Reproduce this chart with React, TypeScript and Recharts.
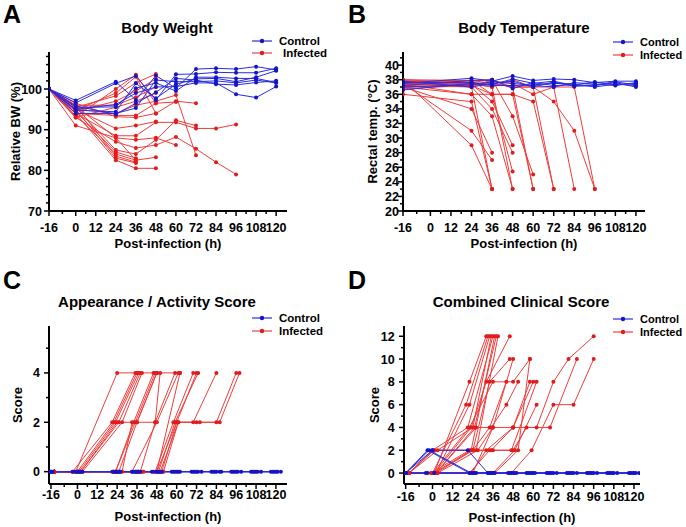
import React from "react";
import { LineChart, Line, XAxis, YAxis, Label } from "recharts";

const FONT = "'Liberation Sans', Arial, Helvetica, sans-serif";
const RED = "#ef3d3d";
const RED_DOT = "#e01c1c";
const BLUE = "#2b2be0";
const BLUE_DOT = "#1414c8";

// x axis (hours post infection)
const hourTicks = [-16, 0, 12, 24, 36, 48, 60, 72, 84, 96, 108, 120];
const hourMinorTicks = [-8, 6, 18, 30, 42, 54, 66, 78, 90, 102, 114];

// A - body weight (%), one row per animal, values at bwTimes
const bwTimes = [-16, 0, 24, 36, 48, 60, 72, 84, 96, 108, 120];
const bwControl = [
  [100, 97.2, 101.8, 97.3, 103.3, 100.2, 104.9, 105.1, 104.9, 105.5, 104.7],
  [100, 96.6, 101.4, 103.2, 97.3, 103.6, 103.7, 104.1, 104.0, 104.0, 105.1],
  [100, 95.5, 95.6, 100.2, 101.5, 99.5, 102.9, 102.9, 102.6, 102.6, 101.6],
  [100, 94.8, 94.4, 101.4, 97.7, 101.2, 102.5, 102.6, 101.8, 102.9, 104.5],
  [100, 94.0, 94.0, 95.3, 102.2, 101.8, 101.8, 102.0, 101.5, 102.2, 101.5],
  [100, 95.0, 96.2, 99.0, 100.5, 100.6, 101.5, 101.5, 98.7, 97.9, 100.6],
  [100, 95.8, 93.8, 96.5, 99.2, 102.6, 102.2, 101.2, 101.0, 101.6, 102.0],
];
const bwInfected = [
  [100, 94, 82.5, 80.5, 80.5],
  [100, 95, 83, 81.8],
  [100, 93.5, 84, 82.5, 83.2],
  [100, 96, 83.5, 82],
  [100, 94.5, 84.5, 83],
  [100, 95.5, 85, 84, 87.5, 92.3, 91.0],
  [100, 93, 87, 85.5, 86.2, 88.2, 85.3, 82, 79],
  [100, 91, 88, 87.5, 88, 86.2],
  [100, 94, 88.5, 88.5, 91.8, 91.8, 90.3, 90.3, 91.3],
  [100, 95, 90.3, 91, 92],
  [100, 96.5, 93.2, 93, 94, 97, 96.5],
  [100, 94, 93.5, 93.5, 96.5, 96.8],
  [100, 95, 94, 96, 97, 98.5, 83.7],
  [100, 93, 95.5, 97, 99],
  [100, 96, 96, 98, 100.5],
  [100, 94.5, 97, 99.5, 102.5],
  [100, 95.5, 98.3, 101.5, 103.7],
  [100, 93.2, 100, 103.5, 96.5],
  [100, 94.8, 99, 103, 94],
  [100, 95.8, 88, 82.5],
];

// B - rectal temperature (°C), values at tempTimes
const tempTimes = [-16, 24, 36, 48, 60, 72, 84, 96, 108, 120];
const tempControl = [
  [37.5, 38.2, 37.8, 38.5, 37.9, 38.1, 38.0, 37.6, 37.8, 37.8],
  [36.6, 37.5, 37.2, 37.2, 37.3, 37.5, 37.4, 37.0, 37.4, 37.2],
  [37.2, 37.9, 38.0, 36.8, 37.6, 37.2, 37.3, 37.7, 37.3, 37.5],
  [37.8, 37.0, 37.5, 37.8, 37.0, 37.7, 37.1, 37.2, 37.6, 37.0],
  [37.0, 37.3, 37.7, 37.5, 37.2, 37.0, 37.6, 37.4, 37.2, 37.6],
  [37.6, 37.6, 37.3, 38.1, 37.5, 37.8, 37.2, 37.3, 37.7, 37.3],
];
const tempInfected = [
  [38.0, 29, 23],
  [37.5, 31, 27],
  [37.0, 34, 28],
  [37.9, 37.0, 23],
  [36.0, 35, 23],
  [37.4, 36, 33, 23],
  [37.8, 37.4, 35, 29],
  [37.2, 37.0, 34, 28],
  [38.0, 37.9, 36, 25.4],
  [37.0, 37.4, 37, 23],
  [37.6, 37.0, 38, 33, 25],
  [37.3, 37.6, 37.5, 37, 23],
  [36.8, 37.2, 36, 36, 35, 23],
  [38.0, 37.5, 37, 38, 37, 35, 31, 23],
  [37.5, 37.2, 37.8, 37.5, 36, 37, 37, 23],
  [37.8, 37.9, 37.5, 37.0, 37.0, 37.0, 23],
  [37.0, 36, 36, 36, 23],
  [37.6, 37.8, 38, 37.0, 37, 23],
];

// C - appearance / activity score, [hour (jittered), score] per animal
const actControl = [
  [[-17, 0], [-3, 0], [21, 0], [33, 0], [45, 0], [57, 0], [69, 0], [81, 0], [93, 0], [105, 0], [117, 0]],
  [[-16, 0], [-1, 0], [23, 0], [34, 0], [46, 0], [58, 0], [70, 0], [82, 0], [94, 0], [106, 0], [118, 0]],
  [[-15, 0], [1, 0], [25, 0], [36, 0], [48, 0], [59, 0], [71, 0], [83, 0], [95, 0], [107, 0], [119, 0]],
  [[-16, 0], [0, 0], [24, 0], [37, 0], [49, 0], [60, 0], [72, 0], [84, 0], [96, 0], [108, 0], [120, 0]],
  [[-17, 0], [2, 0], [26, 0], [38, 0], [50, 0], [61, 0], [73, 0], [86, 0], [97, 0], [109, 0], [121, 0]],
  [[-16, 0], [3, 0], [22, 0], [35, 0], [51, 0], [62, 0], [75, 0], [87, 0], [99, 0], [111, 0], [123, 0]],
];
const actInfected = [
  [[-14, 0], [-1, 0], [24, 4], [36, 4], [48, 4], [62, 4]],
  [[-14, 0], [0, 0], [22, 2], [36, 4]],
  [[-14, 0], [1, 0], [23, 2], [37, 4]],
  [[-14, 0], [2, 0], [25, 2], [38, 4]],
  [[-14, 0], [3, 0], [27, 2], [39, 4]],
  [[-14, 0], [-3, 0], [21, 2], [35, 4]],
  [[-14, 0], [0, 0], [23, 0], [35, 2], [47, 4]],
  [[-14, 0], [1, 0], [25, 0], [36, 2], [48, 4]],
  [[-14, 0], [2, 0], [27, 0], [33, 2], [47, 2], [50, 4]],
  [[-14, 0], [-1, 0], [24, 0], [38, 0], [47, 2], [59, 4]],
  [[-14, 0], [0, 0], [22, 0], [36, 0], [48, 0], [60, 2], [72, 4]],
  [[-14, 0], [1, 0], [24, 0], [37, 0], [49, 0], [59, 2], [73, 4]],
  [[-14, 0], [2, 0], [23, 0], [39, 0], [50, 0], [61, 2], [70, 2], [84, 4]],
  [[-14, 0], [0, 0], [26, 0], [35, 0], [51, 0], [60, 2], [72, 2], [84, 2], [96, 4]],
  [[-14, 0], [3, 0], [25, 0], [40, 0], [52, 0], [61, 2], [74, 2], [86, 2], [98, 4]],
  [[-14, 0], [1, 0], [24, 0], [36, 0], [48, 0], [62, 4]],
  [[-14, 0], [-2, 0], [22, 0], [33, 0], [48, 2], [61, 4]],
  [[-14, 0], [2, 0], [24, 2], [36, 2], [48, 4]],
  [[-14, 0], [0, 0], [23, 0], [34, 2], [46, 4]],
  [[-14, 0], [1, 0], [22, 0], [37, 0], [47, 0], [58, 2], [70, 4]],
];

// D - combined clinical score, [hour (jittered), score] per animal
const ccsControl = [
  [[-16, 0], [-3, 2], [22, 0], [33, 0], [45, 0], [56, 0], [68, 0], [80, 0], [92, 0], [104, 0], [117, 0]],
  [[-16, 0], [-2, 2], [23, 0], [34, 0], [47, 0], [57, 0], [69, 0], [81, 0], [93, 0], [105, 0], [118, 0]],
  [[-16, 0], [0, 2], [21, 2], [33, 0], [48, 0], [58, 0], [70, 0], [82, 0], [94, 0], [106, 0], [119, 0]],
  [[-16, 0], [-4, 0], [24, 0], [35, 0], [49, 0], [59, 0], [71, 0], [83, 0], [95, 0], [107, 0], [120, 0]],
  [[-16, 0], [1, 0], [25, 0], [36, 0], [46, 0], [60, 0], [72, 0], [84, 0], [96, 0], [108, 0], [121, 0]],
  [[-16, 0], [-3, 0], [26, 0], [37, 0], [50, 0], [61, 0], [74, 0], [86, 0], [98, 0], [110, 0], [123, 0]],
];
const ccsInfected = [
  [[-14, 0], [1, 0], [22, 8], [32, 12]],
  [[-14, 0], [0, 0], [20, 6], [33, 12]],
  [[-14, 0], [2, 0], [22, 6], [34, 12]],
  [[-14, 0], [3, 2], [24, 4], [35, 12]],
  [[-14, 0], [0, 2], [21, 4], [36, 12]],
  [[-14, 0], [1, 0], [23, 2], [37, 12]],
  [[-14, 0], [2, 0], [25, 4], [38, 12]],
  [[-14, 0], [0, 2], [26, 2], [39, 12]],
  [[-14, 0], [1, 0], [23, 4], [32, 8], [46, 12]],
  [[-14, 0], [2, 0], [24, 2], [34, 8], [46, 10]],
  [[-14, 0], [3, 0], [27, 2], [36, 4], [48, 10]],
  [[-14, 0], [0, 0], [22, 4], [36, 8], [48, 8], [58, 10]],
  [[-14, 0], [1, 0], [24, 2], [34, 4], [44, 8]],
  [[-14, 0], [2, 0], [26, 4], [35, 4], [44, 6], [51, 8]],
  [[-14, 0], [0, 0], [23, 0], [32, 2], [48, 4], [58, 8]],
  [[-14, 0], [1, 2], [24, 2], [36, 2], [47, 2], [62, 8]],
  [[-14, 0], [2, 0], [24, 0], [36, 4], [48, 4], [62, 4], [72, 8], [81, 10], [96, 12]],
  [[-14, 0], [3, 0], [22, 0], [34, 2], [48, 2], [56, 4], [70, 4], [86, 10]],
  [[-14, 0], [0, 0], [23, 0], [35, 0], [47, 0], [59, 2], [72, 6], [84, 6], [96, 10]],
  [[-14, 0], [1, 0], [25, 0], [36, 0], [49, 2], [62, 6]],
  [[-14, 0], [2, 0], [24, 0], [37, 0], [51, 2], [58, 10]],
  [[-14, 0], [-1, 0], [22, 2], [35, 2], [48, 4], [60, 8]],
];

type Pt = { t: number; v: number };
const fromRows = (times: number[], rows: number[][]): Pt[][] =>
  rows.map((row) => row.map((v, i) => ({ t: times[i], v })));
const fromPairs = (rows: number[][][]): Pt[][] =>
  rows.map((row) => row.map(([t, v]) => ({ t, v })));

const range = (a: number, b: number) => {
  const out: number[] = [];
  for (let i = a; i <= b; i++) out.push(i);
  return out;
};

const TICK_OFF = 7; // tickSize 5 + tickMargin 2
const textProps = { fontFamily: FONT, fontWeight: "bold" as const, fill: "#000" };

const XTick = ({ x, y, payload, gap }: any) => {
  const axisY = y - TICK_OFF;
  const major = hourTicks.includes(payload.value);
  return (
    <g>
      <line x1={x} x2={x} y1={axisY} y2={axisY + (major ? 5 : 3)} stroke="#000" strokeWidth={1.5} />
      {major && (
        <text x={x} y={axisY + gap} textAnchor="middle" fontSize={12.5} {...textProps}>
          {payload.value}
        </text>
      )}
    </g>
  );
};

const YTick = ({ x, y, payload, gap, major }: any) => {
  const axisX = x + TICK_OFF;
  const isMajor = major.includes(payload.value);
  return (
    <g>
      <line x1={axisX - (isMajor ? 5 : 3)} x2={axisX} y1={y} y2={y} stroke="#000" strokeWidth={1.5} />
      {isMajor && (
        <text x={axisX - gap} y={y + 4.5} textAnchor="end" fontSize={12.5} {...textProps}>
          {payload.value}
        </text>
      )}
    </g>
  );
};

const LegendRow = ({ x, y, color, dot, label, dx = 0, size }: any) => (
  <g>
    <line x1={x} x2={x + 20} y1={y} y2={y} stroke={color} strokeWidth={1.2} />
    <circle cx={x + 10} cy={y} r={2.2} fill={dot} />
    <text x={x + 27 + dx} y={y + size * 0.36} fontSize={size} {...textProps}>
      {label}
    </text>
  </g>
);

const panels = [
  {
    letter: "A", letterX: 3, letterY: 23,
    title: "Body Weight", titleX: 167, titleY: 33,
    left: 0, top: 0, w: 343, h: 264,
    plot: { left: 49, right: 287, top: 52, bottom: 211 },
    xDomain: [-16, 126.5], yDomain: [70, 109.1],
    yTicks: range(35, 54).map((v) => v * 2), yMajor: [70, 80, 90, 100],
    yLabel: "Relative BW (%)", yLabelX: 15, yGap: 7,
    xGap: 20.5, xLabelOffset: 16,
    legendX: 252, legendY: [41, 53], infDx: 4, legendSize: 11.5,
    control: fromRows(bwTimes, bwControl), infected: fromRows(bwTimes, bwInfected),
  },
  {
    letter: "B", letterX: 5, letterY: 23,
    title: "Body Temperature", titleX: 181, titleY: 33,
    left: 343, top: 0, w: 343, h: 264,
    plot: { left: 60, right: 302, top: 52, bottom: 211 },
    xDomain: [-16, 125.3], yDomain: [20, 41.8],
    yTicks: range(20, 41), yMajor: range(10, 20).map((v) => v * 2),
    yLabel: "Rectal temp. (°C)", yLabelX: 29, yGap: 4,
    xGap: 20.5, xLabelOffset: 16,
    legendX: 270, legendY: [42, 55], infDx: 0, legendSize: 11,
    control: fromRows(tempTimes, tempControl), infected: fromRows(tempTimes, tempInfected),
  },
  {
    letter: "C", letterX: 3, letterY: 25,
    title: "Appearance / Activity Score", titleX: 157, titleY: 43,
    left: 0, top: 264, w: 343, h: 263,
    plot: { left: 49, right: 287, top: 62, bottom: 220 },
    xDomain: [-17.2, 126.7], yDomain: [-0.5, 5.9],
    yTicks: range(0, 5), yMajor: [0, 2, 4],
    yLabel: "Score", yLabelX: 17, yGap: 9,
    xGap: 14.5, xLabelOffset: 6.4,
    legendX: 252, legendY: [54, 67], infDx: 0, legendSize: 11.5,
    control: fromPairs(actControl), infected: fromPairs(actInfected),
  },
  {
    letter: "D", letterX: 5, letterY: 25,
    title: "Combined Clinical Score", titleX: 178, titleY: 43,
    left: 343, top: 264, w: 343, h: 263,
    plot: { left: 61, right: 297, top: 62, bottom: 220 },
    xDomain: [-17, 123.6], yDomain: [-0.96, 12.9],
    yTicks: range(0, 12), yMajor: [0, 2, 4, 6, 8, 10, 12],
    yLabel: "Score", yLabelX: 31, yGap: 9.3,
    xGap: 16.5, xLabelOffset: 5.4,
    legendX: 270, legendY: [55, 68], infDx: 0, legendSize: 11,
    control: fromPairs(ccsControl), infected: fromPairs(ccsInfected),
  },
];

const allHourTicks = [...hourTicks, ...hourMinorTicks].sort((a, b) => a - b);
const labelStyle = { fontFamily: FONT, fontWeight: "bold", fontSize: 13, fill: "#000" };

function Panel({ cfg }: any) {
  const { w, h, plot } = cfg;
  return (
    <div style={{ position: "absolute", left: cfg.left, top: cfg.top, width: w, height: h }}>
      <LineChart
        width={w}
        height={h}
        margin={{ top: plot.top, right: w - plot.right, bottom: 0, left: 0 }}
      >
        <XAxis
          type="number"
          dataKey="t"
          domain={cfg.xDomain}
          allowDataOverflow
          ticks={allHourTicks}
          interval={0}
          height={h - plot.bottom}
          tickSize={5}
          tickMargin={2}
          tickLine={false}
          axisLine={{ stroke: "#000", strokeWidth: 2 }}
          tick={(p: any) => <XTick {...p} gap={cfg.xGap} />}
        >
          <Label
            value="Post-infection (h)"
            position="insideBottom"
            offset={cfg.xLabelOffset}
            style={labelStyle}
          />
        </XAxis>
        <YAxis
          type="number"
          dataKey="v"
          domain={cfg.yDomain}
          allowDataOverflow
          ticks={cfg.yTicks}
          interval={0}
          width={plot.left}
          tickSize={5}
          tickMargin={2}
          tickLine={false}
          axisLine={{ stroke: "#000", strokeWidth: 2 }}
          tick={(p: any) => <YTick {...p} gap={cfg.yGap} major={cfg.yMajor} />}
        >
          <Label
            value={cfg.yLabel}
            angle={-90}
            position="insideLeft"
            offset={cfg.yLabelX}
            style={{ ...labelStyle, textAnchor: "middle" }}
          />
        </YAxis>
        {cfg.infected.map((d: Pt[], i: number) => (
          <Line
            key={"inf" + i}
            data={d}
            dataKey="v"
            type="linear"
            stroke={RED}
            strokeWidth={1}
            dot={{ r: 2, fill: RED_DOT, stroke: RED_DOT, strokeWidth: 0 }}
            activeDot={false}
            isAnimationActive={false}
          />
        ))}
        {cfg.control.map((d: Pt[], i: number) => (
          <Line
            key={"ctl" + i}
            data={d}
            dataKey="v"
            type="linear"
            stroke={BLUE}
            strokeWidth={1}
            dot={{ r: 2, fill: BLUE_DOT, stroke: BLUE_DOT, strokeWidth: 0 }}
            activeDot={false}
            isAnimationActive={false}
          />
        ))}
      </LineChart>
      <svg
        width={w}
        height={h}
        style={{ position: "absolute", left: 0, top: 0, pointerEvents: "none" }}
      >
        <text x={cfg.letterX} y={cfg.letterY} fontSize={25} {...textProps}>
          {cfg.letter}
        </text>
        <text x={cfg.titleX} y={cfg.titleY} textAnchor="middle" fontSize={15} {...textProps}>
          {cfg.title}
        </text>
        <LegendRow
          x={cfg.legendX}
          y={cfg.legendY[0]}
          color={BLUE}
          dot={BLUE_DOT}
          label="Control"
          size={cfg.legendSize}
        />
        <LegendRow
          x={cfg.legendX}
          y={cfg.legendY[1]}
          color={RED}
          dot={RED_DOT}
          label="Infected"
          dx={cfg.infDx}
          size={cfg.legendSize}
        />
      </svg>
    </div>
  );
}

export default function App() {
  return (
    <div
      style={{
        position: "absolute",
        left: 0,
        top: 0,
        width: 686,
        height: 527,
        background: "#fff",
        overflow: "hidden",
      }}
    >
      {panels.map((cfg) => (
        <Panel key={cfg.letter} cfg={cfg} />
      ))}
    </div>
  );
}
